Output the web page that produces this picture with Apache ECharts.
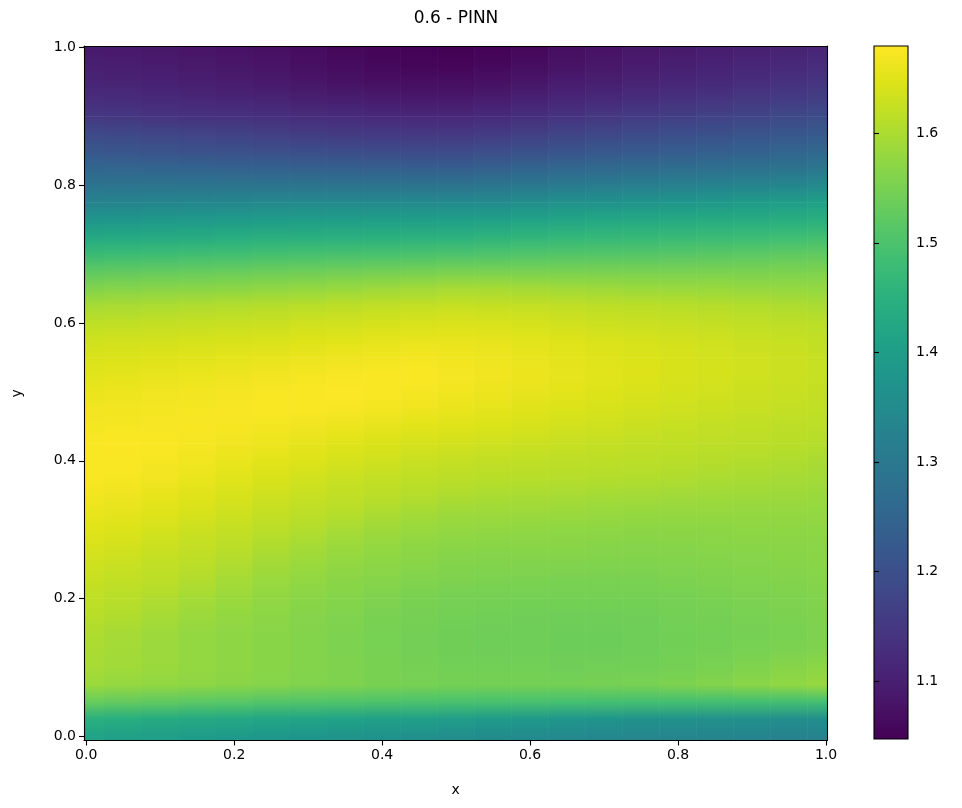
<!DOCTYPE html>
<html><head><meta charset="utf-8">
<script src="https://cdn.jsdelivr.net/npm/echarts@6/dist/echarts.min.js"></script>
<style>html,body{margin:0;padding:0;background:#fff}#c{width:962px;height:808px}</style>
</head><body><div id="c"></div>
<script>
// x positions of the sampled columns
const xValues = [0,0.05,0.1,0.15,0.2,0.25,0.3,0.35,0.4,0.45,0.5,0.55,0.6,0.65,0.7,0.75,0.8,0.85,0.9,0.95,1.0];
// y positions of the sampled rows (top row first)
const yValues = [1.0,0.975,0.95,0.925,0.9,0.875,0.85,0.825,0.8,0.775,0.75,0.725,0.7,0.675,0.65,0.625,0.6,0.575,0.55,0.525,0.5,0.475,0.45,0.425,0.4,0.375,0.35,0.325,0.3,0.275,0.25,0.225,0.2,0.175,0.15,0.125,0.1,0.075,0.05,0.025,0.0];
// field values, one row per yValues entry
const field = [
[1.089,1.086,1.083,1.078,1.075,1.071,1.065,1.057,1.053,1.048,1.047,1.050,1.057,1.068,1.075,1.083,1.088,1.094,1.099,1.105,1.110],
[1.099,1.096,1.093,1.088,1.083,1.078,1.071,1.065,1.059,1.056,1.054,1.059,1.067,1.077,1.085,1.093,1.099,1.106,1.113,1.118,1.125],
[1.110,1.107,1.104,1.098,1.094,1.089,1.083,1.076,1.071,1.068,1.068,1.074,1.083,1.093,1.099,1.107,1.114,1.120,1.128,1.135,1.141],
[1.128,1.125,1.120,1.115,1.111,1.107,1.101,1.096,1.093,1.089,1.089,1.095,1.104,1.113,1.120,1.128,1.135,1.141,1.149,1.156,1.163],
[1.149,1.146,1.141,1.138,1.135,1.131,1.127,1.123,1.119,1.117,1.117,1.123,1.131,1.140,1.149,1.156,1.163,1.170,1.177,1.184,1.191],
[1.184,1.180,1.176,1.171,1.167,1.163,1.158,1.154,1.151,1.149,1.149,1.155,1.163,1.173,1.180,1.188,1.195,1.201,1.209,1.216,1.223],
[1.216,1.213,1.209,1.205,1.201,1.198,1.195,1.191,1.189,1.188,1.188,1.194,1.201,1.210,1.217,1.223,1.230,1.236,1.241,1.248,1.255],
[1.251,1.249,1.247,1.245,1.243,1.240,1.238,1.236,1.235,1.234,1.234,1.238,1.246,1.254,1.260,1.265,1.270,1.276,1.281,1.287,1.294],
[1.289,1.289,1.289,1.289,1.289,1.289,1.289,1.287,1.287,1.286,1.286,1.291,1.298,1.305,1.310,1.315,1.320,1.326,1.331,1.337,1.343],
[1.328,1.331,1.334,1.337,1.339,1.343,1.344,1.345,1.345,1.346,1.346,1.350,1.358,1.365,1.370,1.374,1.380,1.387,1.393,1.399,1.406],
[1.378,1.381,1.385,1.388,1.391,1.395,1.397,1.399,1.400,1.401,1.403,1.407,1.414,1.420,1.425,1.427,1.431,1.435,1.439,1.444,1.448],
[1.427,1.430,1.434,1.437,1.440,1.445,1.447,1.448,1.449,1.450,1.451,1.456,1.460,1.465,1.468,1.469,1.473,1.476,1.479,1.483,1.487],
[1.476,1.479,1.481,1.485,1.487,1.490,1.493,1.495,1.496,1.498,1.500,1.503,1.506,1.508,1.510,1.511,1.514,1.517,1.519,1.523,1.525],
[1.521,1.525,1.527,1.530,1.533,1.536,1.538,1.541,1.545,1.547,1.550,1.550,1.550,1.550,1.550,1.550,1.550,1.551,1.551,1.553,1.554],
[1.560,1.564,1.566,1.569,1.571,1.575,1.579,1.583,1.587,1.591,1.596,1.595,1.593,1.590,1.587,1.585,1.584,1.583,1.580,1.579,1.578],
[1.596,1.598,1.601,1.604,1.607,1.609,1.612,1.616,1.619,1.622,1.625,1.623,1.622,1.619,1.616,1.614,1.612,1.609,1.606,1.603,1.599],
[1.617,1.619,1.622,1.623,1.626,1.628,1.632,1.634,1.638,1.641,1.643,1.641,1.638,1.634,1.630,1.628,1.625,1.622,1.619,1.616,1.614],
[1.632,1.634,1.636,1.638,1.641,1.643,1.647,1.651,1.655,1.658,1.658,1.656,1.652,1.648,1.643,1.639,1.636,1.632,1.628,1.625,1.620],
[1.643,1.645,1.648,1.651,1.654,1.657,1.661,1.665,1.668,1.671,1.668,1.664,1.659,1.654,1.649,1.645,1.641,1.637,1.633,1.629,1.625],
[1.651,1.655,1.658,1.660,1.664,1.667,1.671,1.674,1.677,1.677,1.672,1.667,1.662,1.657,1.651,1.647,1.642,1.638,1.633,1.629,1.625],
[1.660,1.663,1.666,1.669,1.672,1.675,1.677,1.679,1.677,1.673,1.668,1.663,1.658,1.653,1.648,1.643,1.638,1.634,1.630,1.627,1.623],
[1.667,1.669,1.672,1.673,1.675,1.677,1.677,1.674,1.670,1.665,1.660,1.655,1.650,1.645,1.640,1.636,1.632,1.629,1.626,1.622,1.619],
[1.672,1.673,1.674,1.675,1.673,1.670,1.666,1.662,1.657,1.652,1.648,1.644,1.640,1.635,1.632,1.628,1.625,1.622,1.619,1.616,1.614],
[1.677,1.678,1.677,1.673,1.667,1.662,1.656,1.650,1.644,1.639,1.636,1.632,1.629,1.626,1.623,1.620,1.619,1.616,1.614,1.612,1.609],
[1.677,1.677,1.673,1.668,1.660,1.653,1.647,1.639,1.633,1.627,1.623,1.620,1.618,1.616,1.615,1.614,1.612,1.609,1.606,1.603,1.599],
[1.675,1.673,1.667,1.660,1.651,1.643,1.635,1.628,1.622,1.617,1.614,1.612,1.611,1.609,1.608,1.606,1.604,1.600,1.598,1.595,1.593],
[1.668,1.664,1.658,1.650,1.641,1.632,1.626,1.619,1.614,1.609,1.603,1.600,1.598,1.596,1.594,1.593,1.590,1.589,1.588,1.587,1.585],
[1.660,1.656,1.649,1.641,1.632,1.623,1.616,1.611,1.601,1.594,1.588,1.587,1.586,1.585,1.583,1.581,1.580,1.580,1.579,1.579,1.578],
[1.650,1.645,1.638,1.630,1.622,1.614,1.606,1.596,1.588,1.583,1.578,1.577,1.575,1.574,1.573,1.571,1.571,1.571,1.573,1.573,1.573],
[1.641,1.636,1.629,1.622,1.614,1.603,1.594,1.585,1.578,1.573,1.569,1.567,1.567,1.566,1.565,1.564,1.565,1.566,1.567,1.568,1.569],
[1.632,1.627,1.620,1.614,1.604,1.593,1.585,1.577,1.571,1.566,1.561,1.560,1.559,1.559,1.558,1.558,1.559,1.561,1.563,1.565,1.566],
[1.625,1.619,1.614,1.605,1.594,1.583,1.576,1.569,1.564,1.559,1.555,1.554,1.553,1.551,1.551,1.551,1.554,1.556,1.558,1.560,1.563],
[1.617,1.612,1.604,1.594,1.585,1.576,1.569,1.563,1.557,1.551,1.548,1.547,1.546,1.546,1.546,1.546,1.548,1.551,1.554,1.556,1.559],
[1.612,1.605,1.595,1.586,1.578,1.571,1.564,1.558,1.551,1.548,1.545,1.543,1.541,1.540,1.540,1.541,1.545,1.547,1.550,1.554,1.557],
[1.603,1.595,1.587,1.579,1.573,1.567,1.561,1.555,1.549,1.545,1.541,1.540,1.539,1.538,1.538,1.539,1.543,1.545,1.548,1.551,1.555],
[1.599,1.593,1.586,1.579,1.573,1.567,1.561,1.555,1.549,1.545,1.541,1.540,1.539,1.538,1.538,1.539,1.543,1.546,1.549,1.554,1.557],
[1.596,1.590,1.585,1.579,1.573,1.567,1.561,1.556,1.551,1.547,1.544,1.543,1.543,1.541,1.543,1.543,1.546,1.551,1.558,1.565,1.571],
[1.585,1.580,1.577,1.573,1.568,1.564,1.559,1.556,1.551,1.549,1.546,1.546,1.546,1.546,1.548,1.550,1.555,1.561,1.568,1.575,1.581],
[1.533,1.528,1.524,1.519,1.516,1.511,1.508,1.506,1.503,1.500,1.497,1.496,1.495,1.493,1.491,1.490,1.490,1.490,1.490,1.490,1.490],
[1.448,1.443,1.437,1.431,1.426,1.419,1.416,1.411,1.407,1.403,1.399,1.393,1.387,1.381,1.376,1.370,1.368,1.365,1.363,1.359,1.357],
[1.413,1.407,1.401,1.396,1.390,1.385,1.379,1.374,1.368,1.363,1.357,1.353,1.348,1.344,1.339,1.336,1.334,1.333,1.331,1.329,1.328]
];
const xTicks = [0, 0.2, 0.4, 0.6, 0.8, 1.0];
const yTicks = [0, 0.2, 0.4, 0.6, 0.8, 1.0];
const cbTicks = [1.1, 1.2, 1.3, 1.4, 1.5, 1.6];
const colorMin = 1.047, colorMax = 1.68;
const viridis = ['#440154','#481568','#482677','#453781','#3f4788','#39558c','#32648e','#2d718e','#287d8e','#238a8d','#1f968b','#20a386','#29af7f','#3cbc75','#56c667','#75d054','#95d840','#bade28','#dde318','#fde725'];

const nCols = xValues.length, nRows = yValues.length;
const data = [];
yValues.forEach((y, r) => xValues.forEach((x, c) => data.push([x, y, field[r][c]])));
const dx = xValues[1] - xValues[0];
const dy = yValues[0] - yValues[1];

function colorOf(v) {
  const t = Math.max(0, Math.min(1, (v - colorMin) / (colorMax - colorMin)));
  return echarts.color.lerp(t, viridis);
}

const FONT = 'DejaVu Sans';
const lbl = { color: '#000', fontFamily: FONT, fontSize: 14 };
const fmt1 = v => Number(v).toFixed(1);

const chart = echarts.init(document.getElementById('c'), null, { renderer: 'canvas' });
chart.setOption({
  backgroundColor: '#fff',
  animation: false,
  title: {
    text: '0.6 - PINN', left: 456, top: 10, textAlign: 'center', padding: 0,
    textStyle: { color: '#000', fontFamily: FONT, fontSize: 17, fontWeight: 'normal' }
  },
  grid: [
    { left: 84, top: 46, width: 743.5, height: 694.5, show: false },
    { left: 874, top: 46, width: 34, height: 693, show: false }
  ],
  visualMap: {
    show: false, type: 'continuous', min: colorMin, max: colorMax,
    dimension: 2, seriesIndex: 0, inRange: { color: viridis }
  },
  xAxis: [
    { type: 'value', gridIndex: 0, min: -0.003, max: 1.002, position: 'bottom', z: 10,
      name: 'x', nameLocation: 'middle', nameGap: 43,
      nameTextStyle: { color: '#000', fontFamily: FONT, fontSize: 14 },
      axisLine: { show: true, onZero: false, lineStyle: { color: '#000', width: 1.1 } },
      axisTick: { show: true, length: 5, customValues: xTicks, lineStyle: { color: '#000', width: 1.1 } },
      axisLabel: Object.assign({ margin: 8, customValues: xTicks, formatter: fmt1 }, lbl),
      splitLine: { show: false } },
    { type: 'value', gridIndex: 0, min: -0.003, max: 1.002, position: 'top', z: 10,
      axisLine: { show: true, onZero: false, lineStyle: { color: '#000', width: 1.1 } },
      axisTick: { show: false }, axisLabel: { show: false }, splitLine: { show: false } },
    { type: 'value', gridIndex: 1, min: 0, max: 1, show: false }
  ],
  yAxis: [
    { type: 'value', gridIndex: 0, min: -0.0062, max: 1.0023, position: 'left', z: 10,
      name: 'y', nameLocation: 'middle', nameGap: 60,
      nameTextStyle: { color: '#000', fontFamily: FONT, fontSize: 14 },
      axisLine: { show: true, onZero: false, lineStyle: { color: '#000', width: 1.1 } },
      axisTick: { show: true, length: 5, customValues: yTicks, lineStyle: { color: '#000', width: 1.1 } },
      axisLabel: Object.assign({ margin: 8, customValues: yTicks, formatter: fmt1 }, lbl),
      splitLine: { show: false } },
    { type: 'value', gridIndex: 0, min: -0.0062, max: 1.0023, position: 'right', z: 10,
      axisLine: { show: true, onZero: false, lineStyle: { color: '#000', width: 1.1 } },
      axisTick: { show: false }, axisLabel: { show: false }, splitLine: { show: false } },
    { type: 'value', gridIndex: 1, min: colorMin, max: colorMax, position: 'right', z: 10,
      axisLine: { show: false },
      axisTick: { show: true, length: 5, customValues: cbTicks, lineStyle: { color: '#000', width: 1.1 } },
      axisLabel: Object.assign({ margin: 8, customValues: cbTicks, formatter: fmt1 }, lbl),
      splitLine: { show: false } }
  ],
  series: [
    {
      type: 'custom', xAxisIndex: 0, yAxisIndex: 0, clip: true,
      encode: { x: 0, y: 1 },
      data: data,
      renderItem: function (params, api) {
        const idx = params.dataIndex;
        const r = Math.floor(idx / nCols), c = idx % nCols;
        const x = api.value(0), y = api.value(1), v = api.value(2);
        const children = [];
        const left = api.coord([x - dx / 2, y])[0] - 0.3;
        const right = api.coord([x + dx / 2, y])[0] + 0.3;
        if (r === 0) {
          const top = api.coord([x, y + dy / 2])[1];
          const yy = api.coord([x, y])[1];
          children.push({ type: 'rect', shape: { x: left, y: top, width: right - left, height: yy - top + 0.3 },
            style: { fill: colorOf(v) } });
        }
        if (r < nRows - 1) {
          const vNext = field[r + 1][c];
          const yNext = yValues[r + 1];
          const p0 = api.coord([x, y])[1];
          const p1 = api.coord([x, yNext])[1];
          children.push({ type: 'rect', shape: { x: left, y: p0 - 0.3, width: right - left, height: p1 - p0 + 0.6 },
            style: { fill: new echarts.graphic.LinearGradient(0, p0, 0, p1, [
              { offset: 0, color: colorOf(v) }, { offset: 1, color: colorOf(vNext) }], true) } });
        } else {
          const p0 = api.coord([x, y])[1];
          const p1 = api.coord([x, y - dy / 2])[1];
          children.push({ type: 'rect', shape: { x: left, y: p0 - 0.3, width: right - left, height: p1 - p0 + 0.3 },
            style: { fill: colorOf(v) } });
        }
        return { type: 'group', children: children };
      }
    },
    {
      type: 'custom', xAxisIndex: 2, yAxisIndex: 2,
      data: [[0.5, (colorMin + colorMax) / 2]],
      renderItem: function (params, api) {
        const cs = params.coordSys;
        const stops = viridis.map((c, i) => ({ offset: i / (viridis.length - 1), color: c }));
        return {
          type: 'group',
          children: [
            { type: 'rect', shape: { x: cs.x, y: cs.y, width: cs.width, height: cs.height },
              style: { fill: new echarts.graphic.LinearGradient(0, 1, 0, 0, stops) } },
            { type: 'rect', z2: 5, shape: { x: cs.x, y: cs.y, width: cs.width, height: cs.height },
              style: { fill: 'none', stroke: '#000', lineWidth: 1.1 } }
          ]
        };
      }
    }
  ]
});
</script></body></html>
